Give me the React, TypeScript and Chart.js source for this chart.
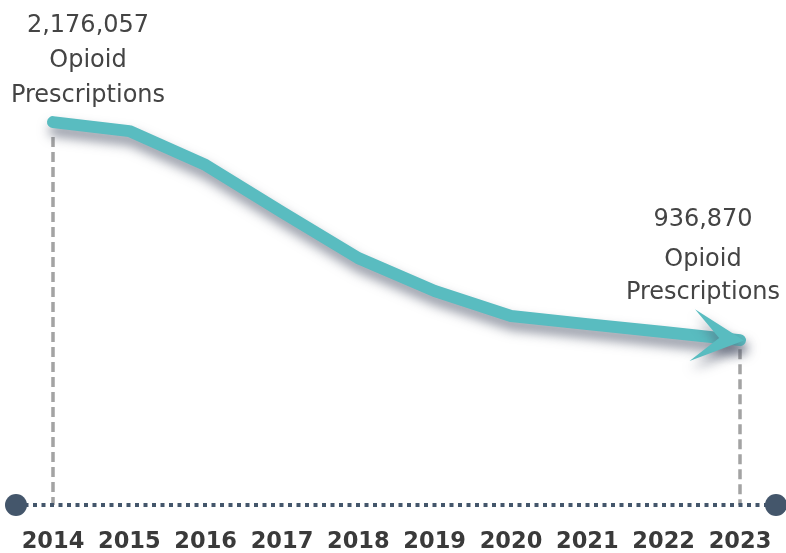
import React, { useEffect, useRef } from "react";
import { Chart, registerables } from "chart.js";

Chart.register(...registerables);

const years = ["2014", "2015", "2016", "2017", "2018", "2019", "2020", "2021", "2022", "2023"];
const prescriptions = [2176057, 2125000, 1932000, 1665000, 1403000, 1216000, 1074000, 1028000, 983000, 936870];
const labelWords = ["Opioid", "Prescriptions"];

const TEAL = "#59bcc0";
const SLATE = "#44566b";

const decorPlugin = {
  id: "decor",
  beforeDatasetsDraw(chart: any) {
    const ctx = chart.ctx;
    const meta = chart.getDatasetMeta(0);
    const yScale = chart.scales.y;
    const area = chart.chartArea;
    const y0 = yScale.getPixelForValue(0);
    const first = meta.data[0];
    const last = meta.data[meta.data.length - 1];
    ctx.save();
    ctx.strokeStyle = "#a3a3a3";
    ctx.lineWidth = 3.5;
    ctx.setLineDash([10, 5]);
    ctx.beginPath();
    ctx.moveTo(first.x, first.y + 15);
    ctx.lineTo(first.x, y0);
    ctx.moveTo(last.x, last.y + 9);
    ctx.lineTo(last.x, y0);
    ctx.stroke();
    const lx = area.left - 37;
    const rx = area.right + 36;
    ctx.strokeStyle = SLATE;
    ctx.lineWidth = 4;
    ctx.setLineDash([4, 4.5]);
    ctx.beginPath();
    ctx.moveTo(lx, y0);
    ctx.lineTo(rx, y0);
    ctx.stroke();
    ctx.setLineDash([]);
    ctx.fillStyle = SLATE;
    ctx.beginPath();
    ctx.arc(lx, y0, 11, 0, Math.PI * 2);
    ctx.fill();
    ctx.beginPath();
    ctx.arc(rx, y0, 11, 0, Math.PI * 2);
    ctx.fill();
    ctx.restore();
  },
  beforeDatasetDraw(chart: any) {
    const ctx = chart.ctx;
    ctx.save();
    ctx.shadowColor = "rgba(80, 88, 108, 0.65)";
    ctx.shadowBlur = 12;
    ctx.shadowOffsetX = 2;
    ctx.shadowOffsetY = 8;
  },
  afterDatasetDraw(chart: any) {
    const ctx = chart.ctx;
    const meta = chart.getDatasetMeta(0);
    const n = meta.data.length;
    const last = meta.data[n - 1];
    const prev = meta.data[n - 2];
    const dx = last.x - prev.x;
    const dy = last.y - prev.y;
    const len = Math.hypot(dx, dy);
    const ux = dx / len;
    const uy = dy / len;
    const px = -uy;
    const py = ux;
    const tx = last.x + 4 * ux;
    const ty = last.y + 4 * uy;
    ctx.fillStyle = TEAL;
    ctx.beginPath();
    ctx.moveTo(tx, ty);
    ctx.lineTo(tx - 52 * ux + 26 * px, ty - 52 * uy + 26 * py);
    ctx.lineTo(tx - 25 * ux, ty - 25 * uy);
    ctx.lineTo(tx - 52 * ux - 26 * px, ty - 52 * uy - 26 * py);
    ctx.closePath();
    ctx.fill();
    ctx.restore();
  },
  afterDraw(chart: any) {
    const ctx = chart.ctx;
    const meta = chart.getDatasetMeta(0);
    const n = meta.data.length;
    const first = meta.data[0];
    const last = meta.data[n - 1];
    ctx.save();
    ctx.fillStyle = "#444444";
    ctx.font = "24px 'DejaVu Sans', sans-serif";
    ctx.textAlign = "center";
    ctx.textBaseline = "alphabetic";
    const firstText = [prescriptions[0].toLocaleString("en-US"), ...labelWords];
    const firstOffsets = [-90, -55, -20];
    firstText.forEach((t, i) => ctx.fillText(t, first.x + 35, first.y + firstOffsets[i]));
    const lastText = [prescriptions[n - 1].toLocaleString("en-US"), ...labelWords];
    const lastOffsets = [-114, -74, -41];
    lastText.forEach((t, i) => ctx.fillText(t, last.x - 37, last.y + lastOffsets[i]));
    ctx.restore();
  },
};

export default function App() {
  const ref = useRef<HTMLCanvasElement | null>(null);
  useEffect(() => {
    document.body.style.margin = "0";
    if (!ref.current) return;
    const chart = new Chart(ref.current, {
      type: "line",
      data: {
        labels: years,
        datasets: [
          {
            data: prescriptions,
            borderColor: TEAL,
            borderWidth: 12,
            pointRadius: 0,
            pointHoverRadius: 0,
            tension: 0,
            fill: false,
            borderCapStyle: "round",
            borderJoinStyle: "round",
            clip: false as any,
          },
        ],
      },
      options: {
        responsive: false,
        animation: false,
        layout: { padding: { left: 53, right: 46, top: 0, bottom: 0 } },
        plugins: { legend: { display: false }, tooltip: { enabled: false } },
        scales: {
          x: {
            offset: false,
            grid: { display: false, drawTicks: false },
            border: { display: false },
            afterFit(scale: any) {
              scale.height = 48;
              scale.paddingLeft = 0;
              scale.paddingRight = 0;
            },
            ticks: {
              color: "#3a3a3a",
              padding: 24,
              maxRotation: 0,
              autoSkip: false,
              font: { family: "'DejaVu Sans', sans-serif", size: 22.5, weight: "bold" },
            },
          },
          y: {
            display: false,
            min: 0,
            max: 2870000,
          },
        },
      },
      plugins: [decorPlugin],
    });
    return () => chart.destroy();
  }, []);
  return (
    <div style={{ width: 786, height: 553 }}>
      <canvas ref={ref} width={786} height={553} style={{ display: "block" }} />
    </div>
  );
}
